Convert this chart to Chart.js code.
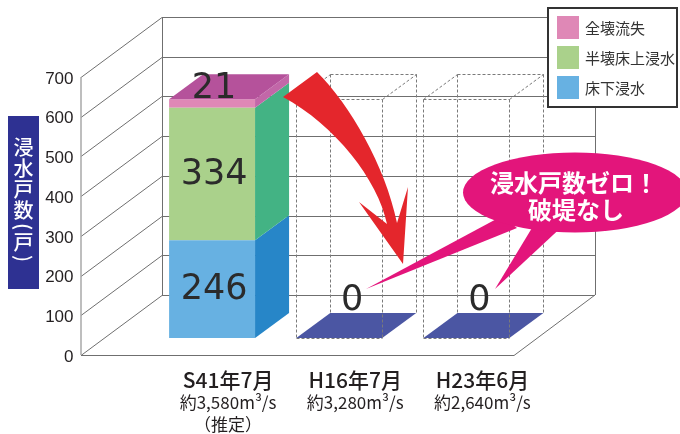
<!DOCTYPE html>
<html>
<head>
<meta charset="utf-8">
<script src="https://cdn.jsdelivr.net/npm/chart.js@4.4.1/dist/chart.umd.min.js"></script>
<style>
  html, body { margin: 0; padding: 0; background: #ffffff; }
  #wrap { width: 680px; height: 434px; position: relative; }
</style>
</head>
<body>
<div id="wrap"><canvas id="c" width="680" height="434"></canvas></div>
<script>
// ---- data ----
const categories = ['S41年7月', 'H16年7月', 'H23年6月'];
const flowLabels = [['約3,580m³/s', '（推定）'], ['約3,280m³/s'], ['約2,640m³/s']];
const underFloor = [246, 0, 0];   // 床下浸水
const aboveFloor = [334, 0, 0];   // 半壊床上浸水
const washedAway = [21, 0, 0];    // 全壊流失
const seriesNames = ['床下浸水', '半壊床上浸水', '全壊流失'];
const yMax = 700;
const yStep = 100;
const axisTitleChars = ['浸', '水', '戸', '数', '(', '戸', ')'];
const calloutLines = ['浸水戸数ゼロ！', '破堤なし'];

// ---- 3D geometry (pixels) ----
const FRONT = { dx: 23, dy: -17 };   // bar front plane, measured from the axis plane
const DEPTH = { dx: 34, dy: -25 };   // bar depth
const WALL = { dx: 81, dy: -60 };    // back wall offset from the axis plane

function poly(ctx, pts, fill) {
  ctx.beginPath();
  ctx.moveTo(pts[0][0], pts[0][1]);
  for (let i = 1; i < pts.length; i++) ctx.lineTo(pts[i][0], pts[i][1]);
  ctx.closePath();
  ctx.fillStyle = fill;
  ctx.fill();
}
function line(ctx, x1, y1, x2, y2) {
  ctx.beginPath();
  ctx.moveTo(x1, y1);
  ctx.lineTo(x2, y2);
  ctx.stroke();
}

const box3d = {
  id: 'box3d',
  beforeDatasetsDraw(chart) {
    const { ctx, chartArea: ca } = chart;
    const y = chart.scales.y;
    const xl = ca.left - 44.5, xr = ca.right + 7;
    const y0 = y.getPixelForValue(0), yT = y.getPixelForValue(y.max);
    ctx.save();
    // left wall + back wall grid lines
    ctx.strokeStyle = '#6f6f6f';
    ctx.lineWidth = 1;
    y.ticks.forEach(t => {
      const py = Math.round(y.getPixelForValue(t.value)) + 0.5;
      ctx.beginPath();
      ctx.moveTo(xl, py);
      ctx.lineTo(xl + WALL.dx, py + WALL.dy);
      ctx.lineTo(xr + WALL.dx, py + WALL.dy);
      ctx.stroke();
    });
    line(ctx, xl + WALL.dx + 0.5, yT + WALL.dy, xl + WALL.dx + 0.5, y0 + WALL.dy);
    line(ctx, xr + WALL.dx + 0.5, yT + WALL.dy, xr + WALL.dx + 0.5, y0 + WALL.dy);
    // floor
    ctx.beginPath();
    ctx.moveTo(xl, Math.round(y0) + 0.5);
    ctx.lineTo(xr, Math.round(y0) + 0.5);
    ctx.lineTo(xr + WALL.dx, y0 + WALL.dy);
    ctx.stroke();
    // front axis edge
    ctx.strokeStyle = '#a8a8a8';
    ctx.lineWidth = 1.5;
    line(ctx, xl, yT, xl, y0);
    ctx.restore();
    // bars are drawn on the front plane of the boxes
    ctx.save();
    ctx.translate(FRONT.dx, FRONT.dy);
  },
  afterDatasetsDraw(chart) {
    const { ctx } = chart;
    ctx.restore();
    const y = chart.scales.y;
    const metas = chart.getSortedVisibleDatasetMetas();
    const totals = categories.map((_, i) => chart.data.datasets.reduce((s, d) => s + d.data[i], 0));
    const refTop = y.getPixelForValue(totals[0]) + FRONT.dy;

    ctx.save();
    categories.forEach((_, i) => {
      let top = null;
      metas.forEach(meta => {
        const ds = chart.data.datasets[meta.index];
        const el = meta.data[i];
        const p = el.getProps(['x', 'y', 'base', 'width'], true);
        const x1 = p.x - p.width / 2 + FRONT.dx, x2 = p.x + p.width / 2 + FRONT.dx;
        const t = p.y + FRONT.dy, b = p.base + FRONT.dy;
        if (ds.data[i] > 0) {
          poly(ctx, [[x2, t], [x2 + DEPTH.dx, t + DEPTH.dy], [x2 + DEPTH.dx, b + DEPTH.dy], [x2, b]], ds.sideColor);
          if (!top || t < top.t) top = { x1, x2, t, color: ds.topColor };
        }
      });
      const el0 = metas[0].data[i].getProps(['x', 'base', 'width'], true);
      const x1 = el0.x - el0.width / 2 + FRONT.dx, x2 = el0.x + el0.width / 2 + FRONT.dx;
      const b = el0.base + FRONT.dy;
      if (top) {
        poly(ctx, [[top.x1, top.t], [top.x1 + DEPTH.dx, top.t + DEPTH.dy], [top.x2 + DEPTH.dx, top.t + DEPTH.dy], [top.x2, top.t]], top.color);
      } else {
        // empty bar: floor face and dashed outline at the height of the first bar
        poly(ctx, [[x1, b], [x1 + DEPTH.dx, b + DEPTH.dy], [x2 + DEPTH.dx, b + DEPTH.dy], [x2, b]], '#4b56a3');
        ctx.save();
        ctx.strokeStyle = '#7a7a7a';
        ctx.lineWidth = 1;
        ctx.setLineDash([3, 2]);
        const a1 = Math.round(x1) + 0.5, a2 = Math.round(x2) + 0.5;
        const c1 = Math.round(x1 + DEPTH.dx) + 0.5, c2 = Math.round(x2 + DEPTH.dx) + 0.5;
        const tt = Math.round(refTop) + 0.5, bb = Math.round(b) + 0.5;
        const tb = Math.round(refTop + DEPTH.dy) + 0.5, bbb = b + DEPTH.dy;
        line(ctx, a1, tt, a1, bb);
        line(ctx, a2, tt, a2, bb);
        line(ctx, a1, tt, a2, tt);
        line(ctx, a1, bb, a2, bb);
        line(ctx, c1, tb, c1, bbb);
        line(ctx, c2, tb, c2, bbb);
        line(ctx, c1, tb, c2, tb);
        line(ctx, a1, tt, c1, tb);
        line(ctx, a2, tt, c2, tb);
        ctx.restore();
      }
    });

    // value labels
    ctx.fillStyle = '#2b2b2b';
    ctx.font = '35px "DejaVu Sans"';
    ctx.textAlign = 'center';
    ctx.textBaseline = 'middle';
    categories.forEach((_, i) => {
      if (totals[i] === 0) {
        const p = metas[0].data[i].getProps(['x', 'base'], true);
        ctx.fillText('0', p.x + FRONT.dx + 13, p.base + FRONT.dy - 37);
        return;
      }
      metas.forEach(meta => {
        const v = chart.data.datasets[meta.index].data[i];
        if (v <= 0) return;
        const p = meta.data[i].getProps(['x', 'y', 'base'], true);
        const h = p.base - p.y;
        const cx = p.x + FRONT.dx + 2;
        const cy = h < 24 ? p.y + FRONT.dy - 10 : (p.y + p.base) / 2 + FRONT.dy + 1;
        ctx.fillText(String(v), cx, cy);
      });
    });
    ctx.restore();
  },
  afterDraw(chart) {
    const { ctx } = chart;
    ctx.save();

    // red arrow
    ctx.beginPath();
    ctx.moveTo(283, 97);
    ctx.lineTo(317, 72);
    ctx.bezierCurveTo(350, 105, 385, 165, 397, 223);
    ctx.lineTo(408, 187);
    ctx.lineTo(403, 264);
    ctx.lineTo(359, 202);
    ctx.lineTo(387, 224);
    ctx.bezierCurveTo(378, 180, 335, 125, 283, 97);
    ctx.closePath();
    ctx.fillStyle = '#e4262c';
    ctx.fill();

    // callout
    ctx.fillStyle = '#e3157b';
    ctx.beginPath();
    ctx.moveTo(366, 289);
    ctx.lineTo(502, 216);
    ctx.lineTo(517, 228);
    ctx.closePath();
    ctx.fill();
    ctx.beginPath();
    ctx.moveTo(495, 289);
    ctx.lineTo(538, 218);
    ctx.lineTo(567, 222);
    ctx.closePath();
    ctx.fill();
    ctx.beginPath();
    ctx.ellipse(575, 192.5, 112, 40, 0, 0, Math.PI * 2);
    ctx.fill();
    ctx.fillStyle = '#ffffff';
    ctx.font = 'bold 24px "Noto Sans CJK JP"';
    ctx.textAlign = 'center';
    ctx.textBaseline = 'middle';
    ctx.fillText(calloutLines[0], 574, 183);
    ctx.fillText(calloutLines[1], 576, 210);

    // legend (top series first)
    ctx.fillStyle = '#ffffff';
    ctx.fillRect(548, 8, 129, 99);
    ctx.strokeStyle = '#333333';
    ctx.lineWidth = 2;
    ctx.strokeRect(548, 8, 129, 99);
    const ds = chart.data.datasets.slice().reverse();
    ctx.font = '15px "Noto Sans CJK JP"';
    ctx.textAlign = 'left';
    ctx.textBaseline = 'middle';
    ds.forEach((d, k) => {
      const top = 16 + k * 30;
      ctx.fillStyle = d.backgroundColor;
      ctx.fillRect(557, top, 22, 23);
      ctx.fillStyle = '#333333';
      ctx.fillText(d.label, 585, top + 12);
    });

    // vertical axis title
    ctx.fillStyle = '#2e3192';
    ctx.fillRect(8, 116, 31, 173);
    ctx.fillStyle = '#ffffff';
    ctx.font = '500 20px "Noto Sans CJK JP"';
    ctx.textAlign = 'center';
    ctx.textBaseline = 'middle';
    let cy = 137;
    axisTitleChars.forEach(ch => {
      const paren = ch === '(' || ch === ')';
      const adv = paren ? 11 : 21;
      const c = cy + adv / 2;
      if (paren) {
        ctx.save();
        ctx.translate(23.5, c);
        ctx.rotate(Math.PI / 2);
        ctx.fillText(ch, 0, 0);
        ctx.restore();
      } else {
        ctx.fillText(ch, 23.5, c);
      }
      cy += adv;
    });
    ctx.restore();
  }
};

new Chart(document.getElementById('c'), {
  type: 'bar',
  data: {
    labels: categories,
    datasets: [
      { label: seriesNames[0], data: underFloor, backgroundColor: '#67b1e2', sideColor: '#2786c8', topColor: '#2786c8' },
      { label: seriesNames[1], data: aboveFloor, backgroundColor: '#aad18b', sideColor: '#43b384', topColor: '#43b384' },
      { label: seriesNames[2], data: washedAway, backgroundColor: '#df88b6', sideColor: '#c267a8', topColor: '#b5529b' }
    ]
  },
  options: {
    responsive: false,
    animation: false,
    devicePixelRatio: 1,
    layout: { padding: { left: 40, top: 77, right: 173, bottom: 0 } },
    datasets: { bar: { categoryPercentage: 1, barPercentage: 0.676, borderWidth: 0 } },
    plugins: { legend: { display: false }, tooltip: { enabled: false } },
    scales: {
      x: {
        stacked: true,
        grid: { display: false, drawTicks: false },
        border: { display: false },
        ticks: {
          padding: 12,
          labelOffset: 39,
          color: '#231f20',
          font: { family: '"Noto Sans CJK JP"', size: 21, weight: '500', lineHeight: 1.2 }
        },
        afterFit(s) { s.height = 36; }
      },
      xFlow: {
        type: 'category',
        position: 'bottom',
        labels: flowLabels,
        grid: { display: false, drawTicks: false },
        border: { display: false },
        ticks: {
          padding: 0,
          labelOffset: 39,
          color: '#231f20',
          font: { family: '"Noto Sans CJK JP"', size: 17, lineHeight: 1.3 }
        },
        afterFit(s) { s.height = 43; }
      },
      y: {
        stacked: true,
        min: 0,
        max: yMax,
        grid: { display: false, drawTicks: false },
        border: { display: false },
        ticks: {
          stepSize: yStep,
          padding: 52,
          labelOffset: 2,
          color: '#231f20',
          font: { family: '"Liberation Sans"', size: 17 }
        },
        afterFit(s) { s.width = 85.5; }
      }
    }
  },
  plugins: [box3d]
});
</script>
</body>
</html>
